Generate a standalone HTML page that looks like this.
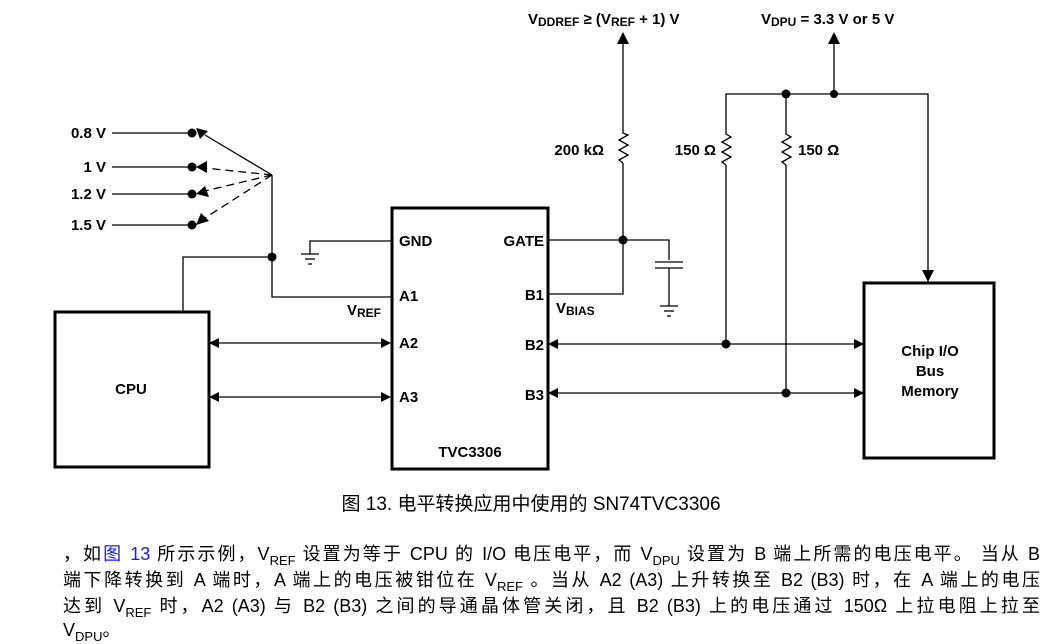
<!DOCTYPE html>
<html><head><meta charset="utf-8"><style>
body{margin:0;background:#fff;width:1062px;height:644px;overflow:hidden;position:relative;font-family:"Liberation Sans","Noto Sans CJK SC",sans-serif}
svg{position:absolute;left:0;top:0}
.t{font-family:"Liberation Sans",Arial,sans-serif;font-weight:bold;font-size:15px;fill:#000}
.ln{position:absolute;left:63px;width:977px;font-size:18px;line-height:20px;text-align:justify;text-align-last:justify;white-space:nowrap;font-family:"Liberation Sans","Noto Sans CJK SC",sans-serif;color:#000}
.ln sub{font-size:13px;vertical-align:-5px;line-height:0}
.cap{position:absolute;left:0;width:1062px;top:489px;text-align:center;font-size:19px;font-family:"Liberation Sans","Noto Sans CJK SC",sans-serif}
</style></head><body>
<svg width="1062" height="644" viewBox="0 0 1062 644">
<g stroke="#000" stroke-width="1.3" fill="none">
<line x1="112" y1="133" x2="192" y2="133"/>
<line x1="112" y1="167" x2="192" y2="167"/>
<line x1="112" y1="194" x2="192" y2="194"/>
<line x1="112" y1="225" x2="192" y2="225"/>
<line x1="272" y1="175" x2="205" y2="135"/>
<line x1="272" y1="175" x2="205" y2="168" stroke-dasharray="8,5"/>
<line x1="272" y1="175" x2="205" y2="191" stroke-dasharray="8,5"/>
<line x1="272" y1="175" x2="205" y2="218" stroke-dasharray="8,5"/>
<polyline points="272,175 272,297 391,297"/>
<polyline points="183,311 183,257 272,257"/>
<polyline points="391,241 310,241 310,254"/>
<line x1="301" y1="254" x2="319" y2="254"/><line x1="305" y1="259" x2="315" y2="259"/><line x1="308" y1="264" x2="312" y2="264"/>
<line x1="215" y1="343" x2="385" y2="343"/><line x1="215" y1="397" x2="385" y2="397"/>
<line x1="554" y1="344" x2="858" y2="344"/><line x1="554" y1="393" x2="858" y2="393"/>
<polyline points="548,240 669,240 669,260"/>
<line x1="655" y1="262" x2="683" y2="262"/><line x1="655" y1="268" x2="683" y2="268"/>
<line x1="669" y1="268" x2="669" y2="306"/>
<line x1="660" y1="306" x2="678" y2="306"/><line x1="664" y1="311" x2="674" y2="311"/><line x1="667" y1="316" x2="671" y2="316"/>
<polyline points="548,294 623,294 623,163"/>
<polyline points="623,163 619,160 628,155 619,150 628,145 619,140 628,135 623,133 623,42"/>
<polyline points="726,344 726,165"/>
<polyline points="726,165 722,162 731,157 722,152 731,147 722,142 731,137 726,134 726,94 928,94 928,272"/>
<polyline points="786,393 786,165"/>
<polyline points="786,165 782,162 791,157 782,152 791,147 782,142 791,137 786,134 786,94"/>
<line x1="834" y1="94" x2="834" y2="42"/>
</g>
<g fill="#000">
<circle cx="192" cy="133" r="4.5"/><circle cx="192" cy="167" r="4.5"/><circle cx="192" cy="194" r="4.5"/><circle cx="192" cy="225" r="4.5"/>
<polygon points="196,128 208,131 200,139"/>
<polygon points="196,167 207,161 207,173"/>
<polygon points="196,194 205,186 209,197"/>
<polygon points="196,225 201,213 209,221"/>
<circle cx="272" cy="257" r="4.5"/><circle cx="623" cy="240" r="4.5"/>
<circle cx="786" cy="94" r="4.5"/><circle cx="834" cy="94" r="4"/>
<circle cx="726" cy="344" r="4.5"/><circle cx="786" cy="393" r="4.5"/>
<polygon points="209,343 219,338 219,348"/><polygon points="391,343 381,338 381,348"/>
<polygon points="209,397 219,392 219,402"/><polygon points="391,397 381,392 381,402"/>
<polygon points="548,344 558,339 558,349"/><polygon points="864,344 854,339 854,349"/>
<polygon points="548,393 558,388 558,398"/><polygon points="864,393 854,388 854,398"/>
<polygon points="623,32 617,44 629,44"/><polygon points="834,32 828,44 840,44"/>
<polygon points="928,282 922,270 934,270"/>
</g>
<g fill="none" stroke="#000" stroke-width="3">
<rect x="55" y="312" width="154" height="155"/>
<rect x="392" y="208" width="156" height="261"/>
<rect x="864" y="283" width="130" height="175"/>
</g>
<g class="t">
<text x="106" y="138" text-anchor="end">0.8 V</text>
<text x="106" y="172" text-anchor="end">1 V</text>
<text x="106" y="199" text-anchor="end">1.2 V</text>
<text x="106" y="230" text-anchor="end">1.5 V</text>
<text x="399" y="246">GND</text>
<text x="399" y="301">A1</text>
<text x="399" y="348">A2</text>
<text x="399" y="402">A3</text>
<text x="544" y="246" text-anchor="end">GATE</text>
<text x="544" y="300" text-anchor="end">B1</text>
<text x="544" y="350" text-anchor="end">B2</text>
<text x="544" y="400" text-anchor="end">B3</text>
<text x="470" y="457" text-anchor="middle">TVC3306</text>
<text x="131" y="394" text-anchor="middle">CPU</text>
<text x="930" y="356" text-anchor="middle">Chip I/O</text>
<text x="930" y="376" text-anchor="middle">Bus</text>
<text x="930" y="396" text-anchor="middle">Memory</text>
<text x="347" y="315">V<tspan font-size="12" dy="2">REF</tspan></text>
<text x="556" y="313">V<tspan font-size="12" dy="2">BIAS</tspan></text>
<text x="528" y="24">V<tspan font-size="12" dy="2">DDREF</tspan><tspan dy="-2"> ≥ (V</tspan><tspan font-size="12" dy="2">REF</tspan><tspan dy="-2"> + 1) V</tspan></text>
<text x="761" y="24">V<tspan font-size="12" dy="2">DPU</tspan><tspan dy="-2"> = 3.3 V or 5 V</tspan></text>
<text x="604" y="155" text-anchor="end">200 kΩ</text>
<text x="716" y="155" text-anchor="end">150 Ω</text>
<text x="798" y="155">150 Ω</text>
</g>
</svg>
<div class="cap">图 13. 电平转换应用中使用的 SN74TVC3306</div>
<div class="ln" style="top:544px">，如<span style="color:#1a1aff">图 13</span> 所示示例，V<sub>REF</sub> 设置为等于 CPU 的 I/O 电压电平，而 V<sub>DPU</sub> 设置为 B 端上所需的电压电平。 当从 B</div>
<div class="ln" style="top:570px">端下降转换到 A 端时，A 端上的电压被钳位在 V<sub>REF</sub> 。当从 A2 (A3) 上升转换至 B2 (B3) 时，在 A 端上的电压</div>
<div class="ln" style="top:596px">达到 V<sub>REF</sub> 时，A2 (A3) 与 B2 (B3) 之间的导通晶体管关闭，且 B2 (B3) 上的电压通过 150Ω 上拉电阻上拉至</div>
<div class="ln" style="top:620px;text-align-last:left">V<sub>DPU</sub>。</div>
</body></html>
